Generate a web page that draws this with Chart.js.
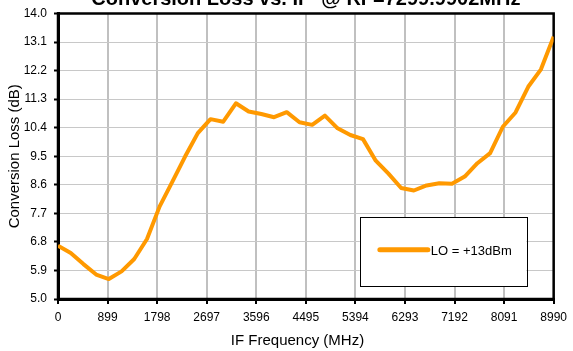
<!DOCTYPE html>
<html>
<head>
<meta charset="utf-8">
<script src="https://cdn.jsdelivr.net/npm/chart.js@4/dist/chart.umd.min.js"></script>
<style>
  html, body { margin: 0; padding: 0; background: #fff; overflow: hidden; }
  body { width: 573px; height: 351px; position: relative; }
  .wrap { position: absolute; left: 0; top: -20px; width: 573px; height: 371px; }
</style>
</head>
<body>
<div class="wrap"><canvas id="chart" width="573" height="371"></canvas></div>
<script>
// Данные
const chartTitle = "Conversion Loss vs. IF  @ RF=7299.9902MHz";
const seriesLabel = "LO = +13dBm";
const freqMHz = [
  0, 231, 461, 692, 922, 1153, 1383, 1614, 1844, 2075,
  2305, 2536, 2766, 2997, 3227, 3458, 3688, 3919, 4149, 4380,
  4610, 4841, 5071, 5302, 5532, 5763, 5994, 6224, 6455, 6685,
  6916, 7146, 7377, 7607, 7838, 8068, 8299, 8529, 8760, 8990
];
const lossDb = [
  6.68, 6.45, 6.10, 5.77, 5.63, 5.87, 6.26, 6.89, 7.92, 8.70,
  9.49, 10.23, 10.67, 10.59, 11.17, 10.91, 10.83, 10.73, 10.89, 10.57,
  10.49, 10.78, 10.38, 10.17, 10.04, 9.36, 8.95, 8.50, 8.42, 8.58,
  8.65, 8.63, 8.86, 9.28, 9.60, 10.43, 10.88, 11.69, 12.24, 13.27
];
const xTicks = [0, 899, 1798, 2697, 3596, 4495, 5394, 6293, 7192, 8091, 8990];
const yTicks = [5.0, 5.9, 6.8, 7.7, 8.6, 9.5, 10.4, 11.3, 12.2, 13.1, 14.0];

const FONT = "'Liberation Sans', Arial, sans-serif";
const LINE_COLOR = "#FF9900";

// рамка вокруг области построения (верх и право)
const frame = {
  id: "frame",
  beforeDatasetsDraw(chart) {
    const { ctx, chartArea: a } = chart;
    ctx.save();
    ctx.strokeStyle = "#000";
    ctx.lineWidth = 2.5;
    ctx.strokeRect(a.left, a.top, a.right - a.left, a.bottom - a.top);
    ctx.restore();
  },
};

// легенда внутри области построения
const boxLegend = {
  id: "boxLegend",
  afterDraw(chart) {
    const { ctx, chartArea: a } = chart;
    const w = a.right - a.left;
    const h = a.bottom - a.top;
    const x1 = a.left + w * 0.609;
    const x2 = a.left + w * 0.945;
    const y1 = a.top + h * 0.713;
    const y2 = a.top + h * 0.956;
    ctx.save();
    ctx.fillStyle = "#fff";
    ctx.fillRect(x1, y1, x2 - x1, y2 - y1);
    ctx.strokeStyle = "#000";
    ctx.lineWidth = 1;
    ctx.strokeRect(Math.round(x1) + 0.5, Math.round(y1) + 0.5, Math.round(x2 - x1), Math.round(y2 - y1));
    const ym = (y1 + y2) / 2 - 2;
    ctx.strokeStyle = LINE_COLOR;
    ctx.lineWidth = 5;
    ctx.lineCap = "round";
    ctx.beginPath();
    ctx.moveTo(x1 + 20, ym);
    ctx.lineTo(x1 + 68, ym);
    ctx.stroke();
    ctx.fillStyle = "#000";
    ctx.font = "13px " + FONT;
    ctx.textBaseline = "middle";
    ctx.textAlign = "left";
    ctx.fillText(chart.data.datasets[0].label, x1 + 71, ym + 2);
    ctx.restore();
  },
};

const points = freqMHz.map((f, i) => ({ x: f, y: lossDb[i] }));

new Chart(document.getElementById("chart"), {
  type: "line",
  data: {
    datasets: [
      {
        label: seriesLabel,
        data: points,
        borderColor: LINE_COLOR,
        backgroundColor: LINE_COLOR,
        borderWidth: 4,
        pointRadius: 0,
        tension: 0,
        borderJoinStyle: "round",
      },
    ],
  },
  options: {
    responsive: false,
    animation: false,
    layout: { padding: { left: 0, right: 14, top: 0, bottom: 0 } },
    plugins: {
      legend: { display: false },
      tooltip: { enabled: false },
      title: {
        display: true,
        text: chartTitle,
        fullSize: false,
        color: "#000",
        font: { family: FONT, size: 20, weight: "bold" },
        padding: { top: 7, bottom: 2.5 },
      },
    },
    scales: {
      x: {
        type: "linear",
        min: 0,
        max: 8990,
        afterBuildTicks(axis) {
          axis.ticks = xTicks.map((v) => ({ value: v }));
        },
        afterFit(axis) {
          axis.height = 52;
        },
        ticks: {
          color: "#000",
          font: { family: FONT, size: 12 },
          padding: 6,
          maxRotation: 0,
          autoSkip: false,
          callback: (v) => String(v),
        },
        grid: {
          color: "#c0c0c0",
          lineWidth: 2,
          tickColor: "#000",
          tickLength: 5,
          tickWidth: 2,
        },
        border: { display: true, color: "#000", width: 3 },
        title: {
          display: true,
          text: "IF Frequency (MHz)    ",
          color: "#000",
          font: { family: FONT, size: 15 },
          padding: { top: 0, bottom: 1 },
        },
      },
      y: {
        min: 5,
        max: 14,
        afterBuildTicks(axis) {
          axis.ticks = yTicks.map((v) => ({ value: v }));
        },
        afterFit(axis) {
          axis.width = 58;
        },
        ticks: {
          color: "#000",
          font: { family: FONT, size: 12 },
          padding: 7,
          callback: (v) => Number(v).toFixed(1),
        },
        grid: {
          color: "#c8c8c8",
          lineWidth: 1,
          tickColor: "#000",
          tickLength: 4,
          tickWidth: 2,
        },
        border: { display: true, color: "#000", width: 3 },
        title: {
          display: true,
          text: "Conversion Loss (dB)",
          color: "#000",
          font: { family: FONT, size: 15 },
          padding: { top: 6, bottom: 0 },
        },
      },
    },
  },
  plugins: [frame, boxLegend],
});
</script>
</body>
</html>
